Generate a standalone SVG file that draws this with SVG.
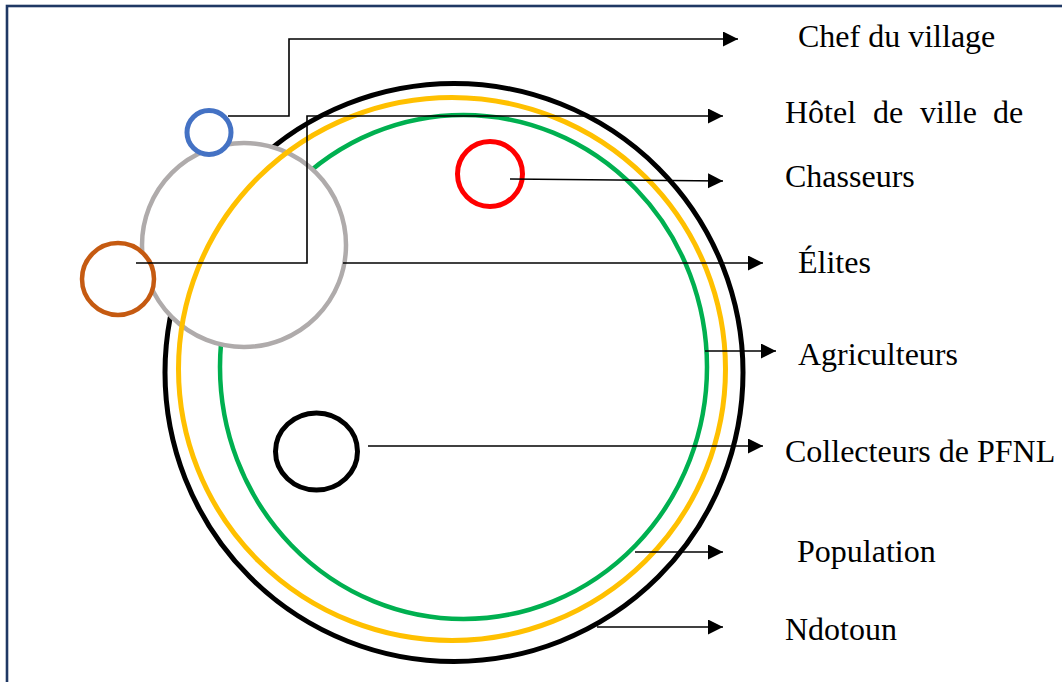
<svg xmlns="http://www.w3.org/2000/svg" width="1062" height="682" viewBox="0 0 1062 682">
<defs>
<marker id="arr" markerUnits="userSpaceOnUse" markerWidth="16" markerHeight="16" refX="15" refY="7.5" orient="auto">
<path d="M0,0 L15,7.5 L0,15 z" fill="#000"/>
</marker>
<style>
.lbl{font-family:"Liberation Serif","Times New Roman",serif;font-size:32px;fill:#000}
.ring{fill:none}
.con{fill:none;stroke:#000;stroke-width:1.6;marker-end:url(#arr)}
</style>
</defs>
<rect x="7" y="6" width="1070" height="690" fill="#fff" stroke="#1f3864" stroke-width="2.6"/>
<g id="ndotoun"><circle cx="454" cy="372.5" r="289" class="ring" stroke="#000" stroke-width="5"/></g>
<g id="agriculteurs"><ellipse cx="463.5" cy="367" rx="243.5" ry="252" class="ring" stroke="#00b050" stroke-width="4.5"/></g>
<g id="elites"><circle cx="244" cy="245" r="102" fill="#fff" stroke="#afabab" stroke-width="4.5"/></g>
<g id="population"><ellipse cx="452" cy="369" rx="273.5" ry="271.5" class="ring" stroke="#ffc000" stroke-width="5"/></g>
<g id="chef"><circle cx="209" cy="132.5" r="22" fill="#fff" stroke="#4472c4" stroke-width="5"/></g>
<g id="hotel"><circle cx="118" cy="279" r="36" fill="#fff" stroke="#c55a11" stroke-width="4.5"/></g>
<g id="chasseurs"><circle cx="490" cy="174" r="32.5" fill="none" stroke="#ff0000" stroke-width="5"/></g>
<g id="collecteurs"><ellipse cx="316.5" cy="451.5" rx="41" ry="38.5" fill="none" stroke="#000" stroke-width="5"/></g>
<g id="connectors">
<path class="con" d="M228,116 H289 V39 H738"/>
<path class="con" d="M136,263 H307 V116 H723"/>
<path class="con" d="M510,179 L723,181"/>
<path class="con" d="M343,263 H763"/>
<path class="con" d="M705,351 H776"/>
<path class="con" d="M368,446 H763"/>
<path class="con" d="M635,552 H723"/>
<path class="con" d="M597,627 H723"/>
</g>
<g id="labels">
<text class="lbl" x="798" y="47">Chef du village</text>
<text class="lbl" y="123"><tspan x="785">Hôtel</tspan><tspan x="873">de</tspan><tspan x="920">ville</tspan><tspan x="993">de</tspan></text>
<text class="lbl" x="785" y="187">Chasseurs</text>
<text class="lbl" x="798" y="273">Élites</text>
<text class="lbl" x="798" y="365">Agriculteurs</text>
<text class="lbl" x="785" y="462">Collecteurs de PFNL</text>
<text class="lbl" x="797" y="562">Population</text>
<text class="lbl" x="785" y="640">Ndotoun</text>
</g>
</svg>
